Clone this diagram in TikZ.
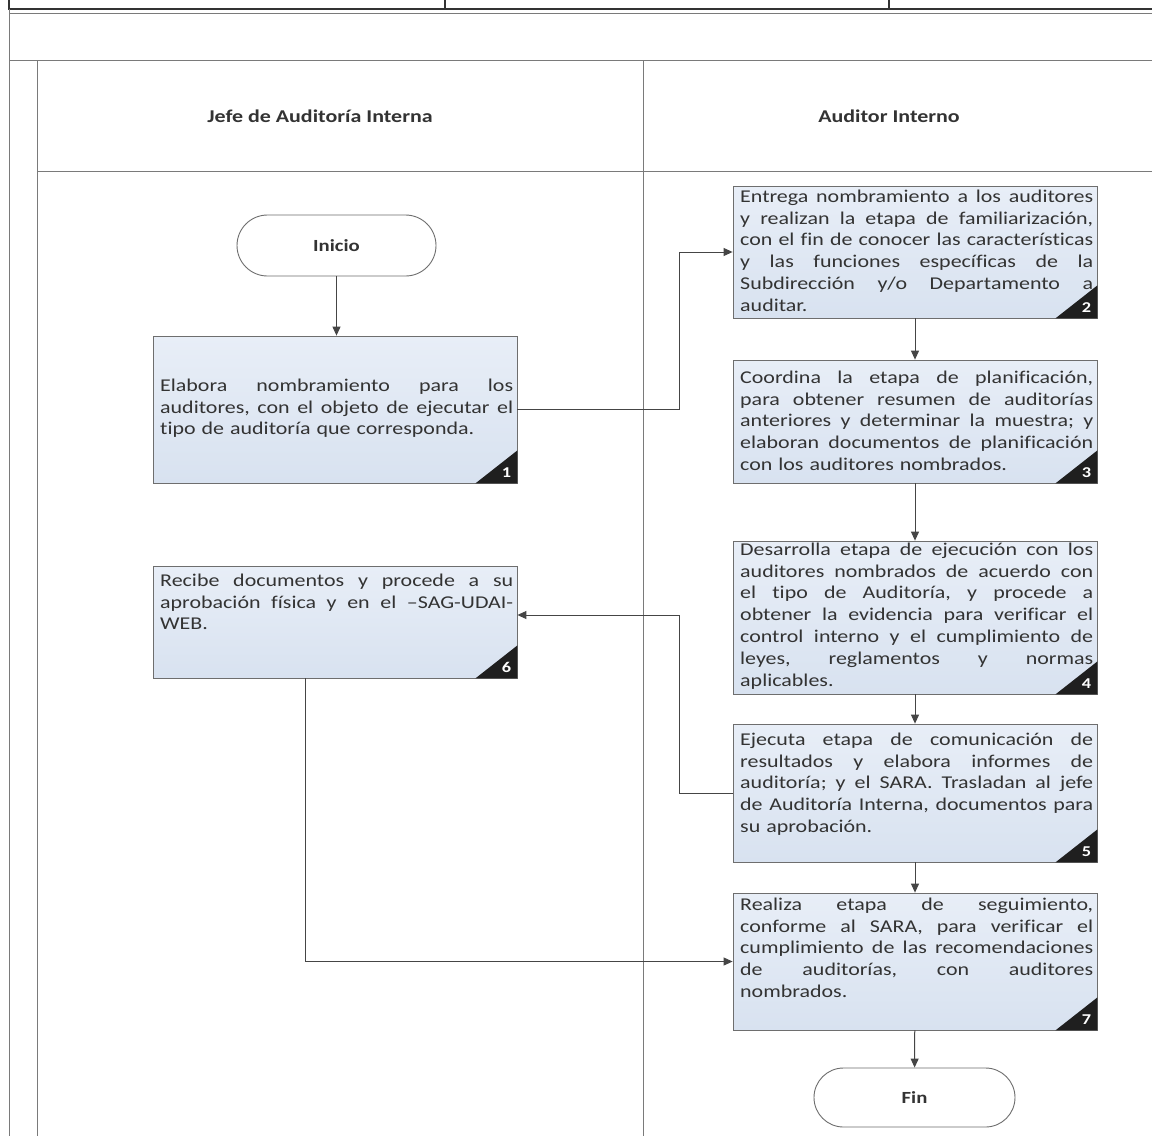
\documentclass[tikz,border=0pt]{standalone}
\usepackage{fontspec}
\setmainfont{Carlito}[FakeStretch=1.22,Ligatures={NoCommon}]
\usetikzlibrary{arrows.meta,calc,shapes.misc}
\definecolor{boxtop}{HTML}{E8EEF7}
\definecolor{boxbot}{HTML}{D8E2F0}
\definecolor{framec}{HTML}{7A7A7A}
\definecolor{conncol}{HTML}{454545}
\definecolor{boxline}{HTML}{6E6E6E}
\definecolor{txt}{HTML}{333333}
\newcommand\jl[1]{\hbox to 353pt{\frenchspacing\spaceskip=5pt plus 1fil\relax\xspaceskip=5pt plus 1fil\relax #1}}
\newcommand\fl{\rule{0pt}{15pt}}
\begin{document}
\begin{tikzpicture}[x=1pt,y=-1pt,
  framel/.style={draw=framec,line width=0.9pt},
  stepbox/.style={draw=boxline,line width=0.8pt,top color=boxtop,bottom color=boxbot,minimum width=364pt,inner sep=0pt},
  boxtext/.style={anchor=north west,inner sep=0pt,text width=353pt,font=\fontsize{18}{21.8}\selectfont,text=txt},
  term/.style={draw=boxline,line width=0.9pt,rounded rectangle,fill=white,inner sep=0pt,font=\bfseries\fontsize{17}{20}\selectfont,text=txt},
  hdr/.style={font=\bfseries\fontsize{18}{21}\selectfont,text=txt,inner sep=0pt},
  numtxt/.style={font=\bfseries\fontsize{15}{17}\selectfont,text=white,inner sep=0pt},
  corner/.style={fill=black!88},
  conn/.style={draw=conncol,line width=1pt,-{Triangle[length=9pt,width=8pt]}}]
\useasboundingbox (0,0) rectangle (1152,1136);
\fill[white] (0,0) rectangle (1152,1136);
% frame
\draw[line width=2.4pt,draw=black!80] (8,9) -- (1152,9);
\draw[line width=2pt,draw=black!80] (9,0) -- (9,10) (445,0) -- (445,10) (889,0) -- (889,10);
\draw[framel] (9,13) -- (1152,13);
\draw[framel] (9,9) -- (9,1136);
\draw[framel] (9,60) -- (1152,60);
\draw[framel] (37,60) -- (37,1136);
\draw[framel] (37,171) -- (1152,171);
\draw[framel] (643,60) -- (643,1136);
% headers
\node[hdr] (h1) at (320,116) {Jefe de Auditoría Interna};
\node[hdr] (h2) at (889,116) {Auditor Interno};
% terminals
\node[term,minimum width=199pt,minimum height=61pt] (ini) at (336.5,245.5) {Inicio};
\node[term,minimum width=201pt,minimum height=59pt] (fin) at (914.5,1097.5) {Fin};
% boxes
\node[stepbox,minimum height=147pt] (b1) at (335,409.5) {};
\node[stepbox,minimum height=132pt] (b2) at (915,252) {};
\node[stepbox,minimum height=123pt] (b3) at (915,421.5) {};
\node[stepbox,minimum height=153pt] (b4) at (915,617.5) {};
\node[stepbox,minimum height=138pt] (b5) at (915,793) {};
\node[stepbox,minimum height=112pt] (b6) at (335,622) {};
\node[stepbox,minimum height=137pt] (b7) at (915,961.5) {};
% texts
\node[boxtext] (t1) at (160,376) {%
\jl{\fl Elabora nombramiento para los}
\jl{auditores, con el objeto de ejecutar el}
\hbox{tipo de auditoría que corresponda.}};
\node[boxtext] (t2) at (740,187) {%
\jl{\fl Entrega nombramiento a los auditores}
\jl{y realizan la etapa de familiarización,}
\jl{con el fin de conocer las características}
\jl{y las funciones específicas de la}
\jl{Subdirección y/o Departamento a}
\hbox{auditar.}};
\node[boxtext] (t3) at (740,368) {%
\jl{\fl Coordina la etapa de planificación,}
\jl{para obtener resumen de auditorías}
\jl{anteriores y determinar la muestra; y}
\jl{elaboran documentos de planificación}
\hbox{con los auditores nombrados.}};
\node[boxtext] (t4) at (740,540) {%
\jl{\fl Desarrolla etapa de ejecución con los}
\jl{auditores nombrados de acuerdo con}
\jl{el tipo de Auditoría, y procede a}
\jl{obtener la evidencia para verificar el}
\jl{control interno y el cumplimiento de}
\jl{leyes, reglamentos y normas}
\hbox{aplicables.}};
\node[boxtext] (t5) at (740,730) {%
\jl{\fl Ejecuta etapa de comunicación de}
\jl{resultados y elabora informes de}
\jl{auditoría; y el SARA. Trasladan al jefe}
\jl{de Auditoría Interna, documentos para}
\hbox{su aprobación.}};
\node[boxtext] (t6) at (160,571) {%
\jl{\fl Recibe documentos y procede a su}
\jl{aprobación física y en el –SAG-UDAI-}
\hbox{WEB.}};
\node[boxtext] (t7) at (740,895) {%
\jl{\fl Realiza etapa de seguimiento,}
\jl{conforme al SARA, para verificar el}
\jl{cumplimiento de las recomendaciones}
\jl{de auditorías, con auditores}
\hbox{nombrados.}};
% corner triangles and numbers
\foreach \b/\n in {b1/1,b2/2,b3/3,b4/4,b5/5,b6/6,b7/7}{
  \fill[corner] (\b.south east) -- ++(-42,0) -- ++(42,-33) -- cycle;
  \node[numtxt] (n\n) at ([shift={(-11,-11)}]\b.south east) {\n};
}
% connectors
\coordinate (jx) at (679,0);
\draw[conn] (ini.south) -- (ini.south |- b1.north);
\draw[conn] (b1.east) -| (jx |- b2.west) -- (b2.west);
\draw[conn] (b2) -- (b3);
\draw[conn] (b3) -- (b4);
\draw[conn] (b4) -- (b5);
\draw[conn] (b5) -- (b7);
\draw[conn] (b5.west) -- (jx |- b5.west) |- ([yshift=7pt]b6.east);
\draw[conn] ([xshift=-30pt]b6.south) |- (b7.west);
\draw[conn] (b7) -- (fin);
\end{tikzpicture}
\end{document}
